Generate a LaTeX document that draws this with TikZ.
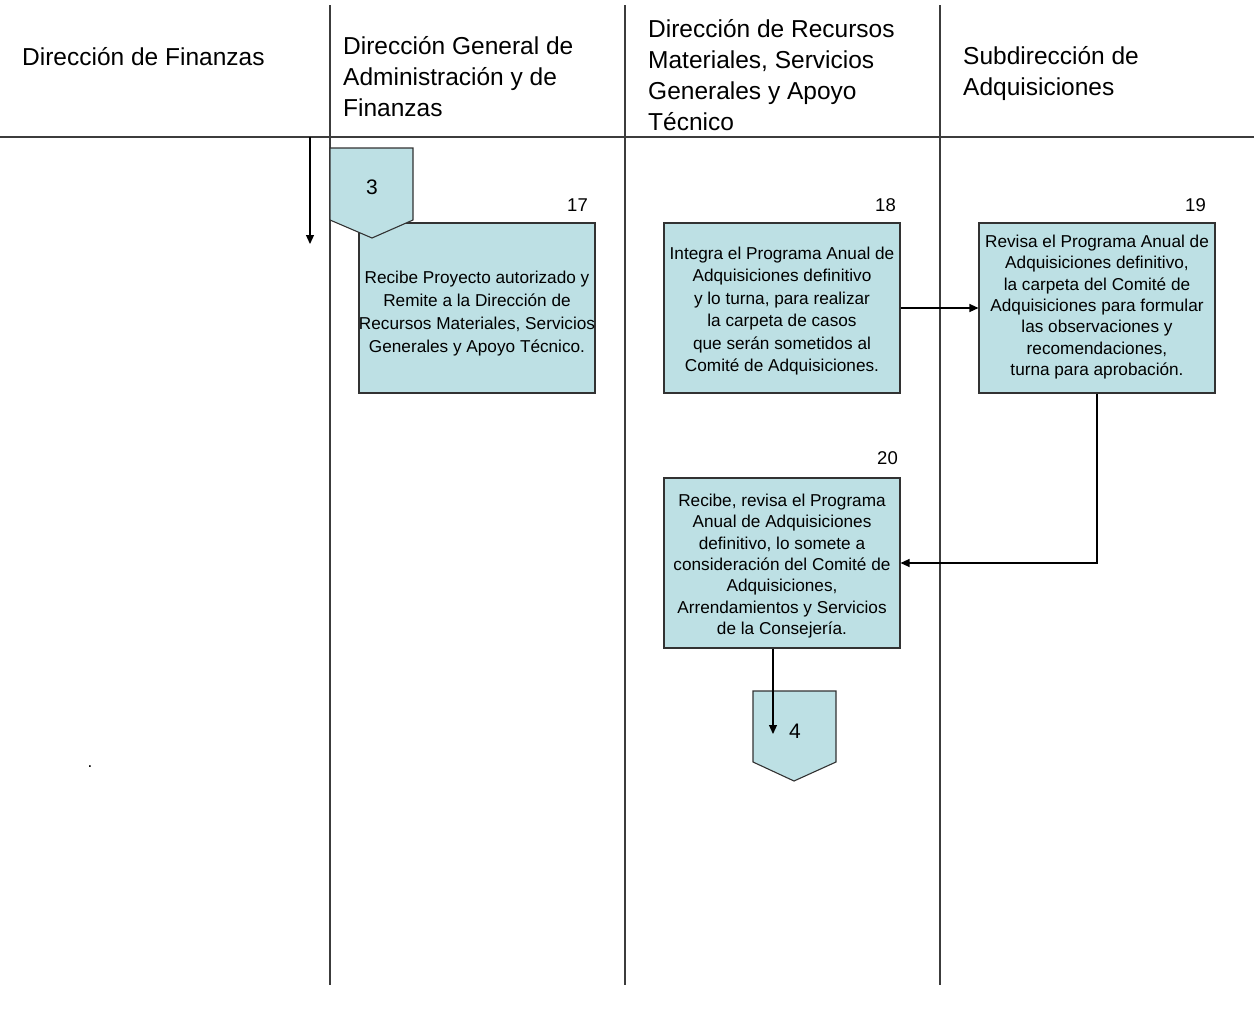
\documentclass[tikz,border=0pt]{standalone}
\usepackage{fontspec}
\setmainfont{Liberation Sans}
\usetikzlibrary{arrows.meta,calc}
\definecolor{boxfill}{RGB}{189,224,228}
\definecolor{laneline}{RGB}{60,60,60}
\definecolor{boxline}{RGB}{50,50,50}
\begin{document}
\begin{tikzpicture}[x=1pt,y=-1pt,
  lane/.style={draw=laneline,line width=1.3pt},
  % multi-line headings are anchored at the baseline of their last line
  header/.style={anchor=base west,align=left,inner sep=0pt,
    font=\fontsize{24.5}{31}\selectfont},
  task/.style={draw=boxline,fill=boxfill,line width=1.1pt,inner sep=0pt,
    minimum width=236pt,minimum height=170pt},
  tasktext/.style={inner sep=0pt,align=center},
  stepno/.style={anchor=east,inner sep=0pt,font=\fontsize{18.5}{18.5}\selectfont},
  offpage/.style={draw=boxline,fill=boxfill,line width=1.1pt},
  pageno/.style={inner sep=0pt,font=\fontsize{21}{21}\selectfont},
  flow/.style={draw=black,line width=1.2pt,-{Triangle[length=9pt,width=8pt]}}
]
\useasboundingbox (0,0) rectangle (1254,1012);

% swimlane frame
\draw[lane] (0,137) -- (1254,137);
\draw[lane] (330,5) -- (330,985);
\draw[lane] (625,5) -- (625,985);
\draw[lane] (940,5) -- (940,985);

% lane headings
\node[header] (h1) at (22,65) {Dirección de Finanzas};
\node[header] (h2) at (343,116) {Dirección General de\\Administración y de\\Finanzas};
\node[header] (h3) at (648,130) {Dirección de Recursos\\Materiales, Servicios\\Generales y Apoyo\\Técnico};
\node[header] (h4) at (963,95) {Subdirección de\\Adquisiciones};

% incoming flow in the first lane
\coordinate (inTop) at (310,137);
\coordinate (inEnd) at (310,244);
\draw[flow] (inTop) -- (inEnd);

% activity boxes
\node[task] (b17) at (477,308) {};
\node[task] (b18) at (782,308) {};
\node[task] (b19) at (1097,308) {};
\node[task] (b20) at (782,563) {};

\node[tasktext,font=\fontsize{17.2}{23}\selectfont] (t17) at ($(b17.center)+(0,6)$)
  {Recibe Proyecto autorizado y\\Remite a la Dirección de\\Recursos Materiales, Servicios\\Generales y Apoyo Técnico.};
\node[tasktext,font=\fontsize{17.2}{22.4}\selectfont] (t18) at ($(b18.center)+(0,3)$)
  {Integra el Programa Anual de\\Adquisiciones definitivo\\y lo turna, para realizar\\la carpeta de casos\\que serán sometidos al\\Comité de Adquisiciones.};
\node[tasktext,font=\fontsize{17.2}{21.4}\selectfont] (t19) at ($(b19.center)+(0,-1)$)
  {Revisa el Programa Anual de\\Adquisiciones definitivo,\\la carpeta del Comité de\\Adquisiciones para formular\\las observaciones y\\recomendaciones,\\turna para aprobación.};
\node[tasktext,font=\fontsize{17.2}{21.4}\selectfont] (t20) at ($(b20.center)+(0,3)$)
  {Recibe, revisa el Programa\\Anual de Adquisiciones\\definitivo, lo somete a\\consideración del Comité de\\Adquisiciones,\\Arrendamientos y Servicios\\de la Consejería.};

% step numbers
\node[stepno] (n17) at (588,205) {17};
\node[stepno] (n18) at (896,205) {18};
\node[stepno] (n19) at (1206,205) {19};
\node[stepno] (n20) at (898,458) {20};

% off-page connector 3 (drawn over box 17)
\draw[offpage] (330,148) -- (413,148) -- (413,220) -- (372,238) -- (330,220) -- cycle;
\node[pageno] (c3) at (372,187) {3};

% off-page connector 4
\draw[offpage] (753,691) -- (836,691) -- (836,762) -- (794,781) -- (753,762) -- cycle;
\node[pageno] (c4) at (795,731) {4};
\coordinate (c4tip) at (773,734);

% flow between activities
\draw[flow] (b18.east) -- (b19.west);
\draw[flow] (b19.south) |- (b20.east);
\draw[flow] (c4tip |- b20.south) -- (c4tip);

% stray mark
\node[inner sep=0pt,font=\fontsize{17}{17}\selectfont] (dot) at (90,767) {.};
\end{tikzpicture}
\end{document}
